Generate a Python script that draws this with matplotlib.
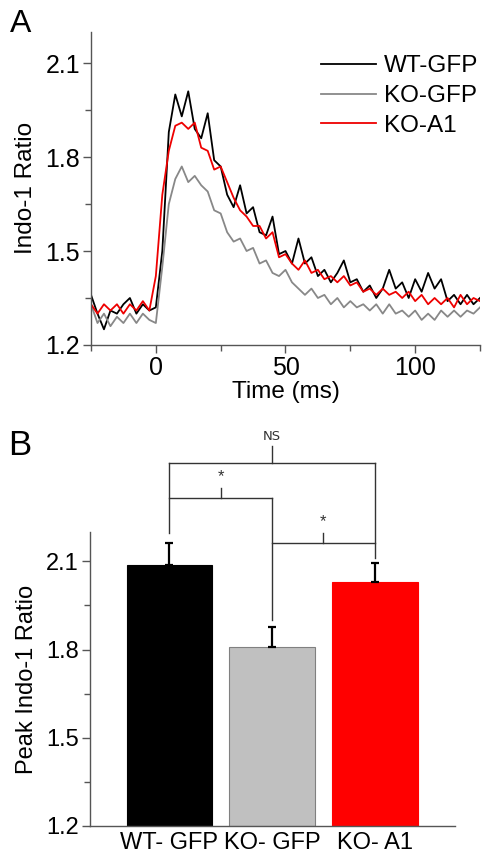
import matplotlib
matplotlib.use("Agg")
import matplotlib.pyplot as plt
import numpy as np

plt.rcParams['font.family'] = ['Liberation Sans', 'DejaVu Sans']

# panel A: traces sampled every 2.5 ms from -25 to 125 ms
time_ms = np.arange(-25, 125.1, 2.5)
wt_gfp = [1.36, 1.30, 1.25, 1.31, 1.30, 1.33, 1.35, 1.30, 1.33, 1.31, 1.32,
          1.50, 1.88, 2.00, 1.93, 2.01, 1.89, 1.86, 1.94, 1.79, 1.77,
          1.68, 1.64, 1.71, 1.62, 1.64, 1.56, 1.55, 1.61, 1.49, 1.50,
          1.46, 1.54, 1.46, 1.48, 1.42, 1.44, 1.40, 1.43, 1.47, 1.40,
          1.41, 1.37, 1.39, 1.35, 1.38, 1.44, 1.38, 1.40, 1.35, 1.41,
          1.37, 1.43, 1.38, 1.41, 1.34, 1.36, 1.33, 1.36, 1.33, 1.35]
ko_gfp = [1.33, 1.27, 1.30, 1.26, 1.29, 1.27, 1.30, 1.27, 1.30, 1.28, 1.27,
          1.45, 1.65, 1.73, 1.77, 1.72, 1.74, 1.71, 1.69, 1.63, 1.62,
          1.56, 1.53, 1.54, 1.50, 1.51, 1.46, 1.47, 1.43, 1.42, 1.44,
          1.40, 1.38, 1.36, 1.38, 1.35, 1.36, 1.33, 1.35, 1.32, 1.34,
          1.32, 1.33, 1.31, 1.33, 1.30, 1.33, 1.30, 1.31, 1.29, 1.31,
          1.28, 1.30, 1.28, 1.31, 1.29, 1.31, 1.29, 1.31, 1.30, 1.32]
ko_a1 = [1.33, 1.30, 1.33, 1.31, 1.33, 1.30, 1.33, 1.31, 1.34, 1.31, 1.42,
         1.68, 1.82, 1.90, 1.91, 1.89, 1.91, 1.83, 1.82, 1.76, 1.77,
         1.72, 1.67, 1.63, 1.61, 1.58, 1.58, 1.54, 1.56, 1.48, 1.49,
         1.46, 1.44, 1.47, 1.43, 1.44, 1.41, 1.42, 1.40, 1.42, 1.39,
         1.40, 1.37, 1.38, 1.36, 1.38, 1.36, 1.37, 1.35, 1.37, 1.34,
         1.36, 1.33, 1.35, 1.33, 1.35, 1.32, 1.36, 1.33, 1.35, 1.34]

# panel B: peak ratios
groups = ['WT- GFP', 'KO- GFP', 'KO- A1']
peak = [2.086, 1.808, 2.029]
peak_err = [0.075, 0.068, 0.064]

fig = plt.figure(figsize=(4.93, 8.65), dpi=100)

# ---- panel A
ax = fig.add_axes([0.1846, 0.6012, 0.789, 0.362])
ax.plot(time_ms, wt_gfp, color='black', lw=1.3, label='WT-GFP')
ax.plot(time_ms, ko_gfp, color='#888888', lw=1.3, label='KO-GFP')
ax.plot(time_ms, ko_a1, color='#ee0000', lw=1.3, label='KO-A1')
ax.set_xlim(-25, 125)
ax.set_ylim(1.2, 2.2)
ax.set_xticks([0, 50, 100])
ax.set_xticks([-25, 25, 75, 125], minor=True)
ax.set_yticks([1.2, 1.5, 1.8, 2.1])
ax.set_yticks([1.35, 1.65, 1.95], minor=True)
ax.set_xlabel('Time (ms)', fontsize=17.5, labelpad=1)
ax.set_ylabel('Indo-1 Ratio', fontsize=17.5, labelpad=6)
leg = ax.legend(loc='upper left', bbox_to_anchor=(0.59, 0.925), frameon=False,
                fontsize=17.5, handlelength=2.3, handletextpad=0.3,
                labelspacing=0.32, borderpad=0, borderaxespad=0)
for h in leg.get_lines():
    h.set_linewidth(1.3)
fig.text(0.02, 1 - 32 / 865, 'A', fontsize=23, ha='left', va='baseline')

# ---- panel B
bx = fig.add_axes([0.1826, 0.0451, 0.7404, 0.3399])
pos = np.arange(1, len(groups) + 1)
bx.bar(pos, np.array(peak) - 1.2, bottom=1.2, width=0.83,
       color=['black', '#c0c0c0', '#ff0000'],
       edgecolor=['black', '#808080', '#ff0000'], linewidth=0.8, zorder=2)
bx.errorbar(pos, peak, yerr=[np.zeros(3), peak_err], fmt='none',
            ecolor='black', elinewidth=1.6, capsize=3, capthick=1.6, zorder=3)
bx.set_xlim(0.23, 3.78)
bx.set_ylim(1.2, 2.2)
bx.set_xticks(pos)
bx.set_xticklabels(groups, fontsize=17)
bx.set_yticks([1.2, 1.5, 1.8, 2.1])
bx.set_yticks([1.35, 1.65, 1.95], minor=True)
bx.set_ylabel('Peak Indo-1 Ratio', fontsize=17, labelpad=6)
fig.text(0.016, 1 - 455 / 865, 'B', fontsize=25, ha='left', va='baseline')

# significance brackets: (left bar, right bar, level, left leg end, right leg end, label)
brackets = [(0, 2, 2.433, peak[0] + peak_err[0] + 0.037, peak[2] + peak_err[2] + 0.017, 'NS'),
            (0, 1, 2.317, None, peak[1] + peak_err[1] + 0.024, '*'),
            (1, 2, 2.164, None, None, '*')]
for i, j, lvl, yl, yr, lab in brackets:
    x1, x2 = pos[i], pos[j]
    kw = dict(color='#333333', lw=1.0, clip_on=False)
    bx.plot([x1, x2], [lvl, lvl], **kw)
    if yl is not None:
        bx.plot([x1, x1], [yl, lvl], **kw)
    if yr is not None:
        bx.plot([x2, x2], [yr, lvl], **kw)
    xm = (x1 + x2) / 2
    bx.plot([xm, xm], [lvl, lvl + (0.06 if lab == 'NS' else 0.034)], **kw)
    if lab == 'NS':
        bx.text(xm, lvl + 0.068, lab, ha='center', va='bottom', fontsize=9.5,
                color='#333333', family='DejaVu Sans')
    else:
        bx.text(xm, lvl + 0.045, lab, ha='center', va='bottom', fontsize=12,
                color='#333333')

for a in (ax, bx):
    for s in ('top', 'right'):
        a.spines[s].set_visible(False)
    for s in ('left', 'bottom'):
        a.spines[s].set_color('#555555')
        a.spines[s].set_linewidth(1.0)
    a.tick_params(which='major', direction='out', length=6, width=1,
                  color='#555555', labelsize=18, pad=2)
    a.tick_params(which='minor', direction='out', length=4, width=1,
                  color='#555555')
bx.tick_params(axis='x', which='major', length=0, labelsize=17, pad=4)
bx.set_xticks([2], minor=True)
bx.tick_params(axis='x', which='minor', length=6)
bx.tick_params(axis='y', labelsize=17)

fig.savefig('out.png', dpi=100)
